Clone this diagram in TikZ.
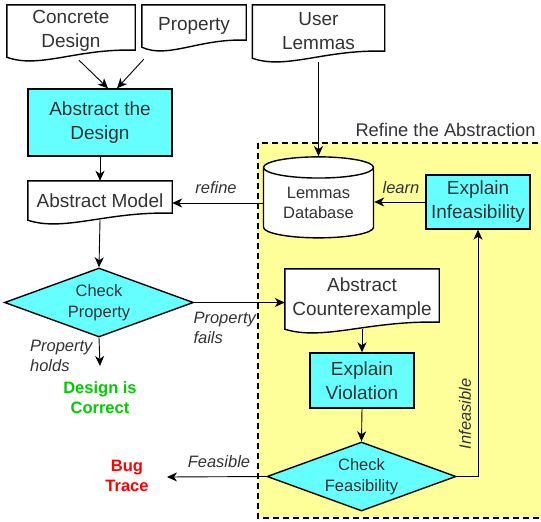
\documentclass[tikz,border=0pt]{standalone}
\usepackage{fontspec}
\setmainfont{Liberation Sans}
\usetikzlibrary{arrows.meta,shapes.geometric,calc,backgrounds}

\definecolor{boxcyan}{HTML}{66FFFF}
\definecolor{areayellow}{HTML}{FFFF99}
\definecolor{txtgray}{HTML}{333333}
\definecolor{okgreen}{HTML}{00CC00}
\definecolor{bugred}{HTML}{FF0000}

\begin{document}
\begin{tikzpicture}[x=1pt, y=-1pt,
  every node/.style={font=\fontsize{19}{24}\selectfont, text=txtgray, align=center},
  smallfont/.style={font=\fontsize{16.5}{20.5}\selectfont},
  flow/.style={-{Stealth[length=10pt,width=9pt,inset=3pt]}, line width=0.9pt},
  procbox/.style={draw, line width=1.4pt, fill=boxcyan, inner sep=0pt},
  docbox/.style={inner sep=0pt},
  docline/.style={line width=1.4pt, draw, fill=white},
  decision/.style={diamond, aspect=2.7, draw, line width=1.4pt, fill=boxcyan, inner sep=0pt,
    minimum width=189pt, minimum height=69pt, smallfont},
  edgelbl/.style={font=\fontsize{16.5}{20}\selectfont\itshape},
  verdict/.style={font=\fontsize{16.5}{20}\selectfont\bfseries}]

  \useasboundingbox (0,0) rectangle (541,522);

  %% Left column: abstraction and model checking
  % Input documents
  \node[docbox, minimum width=128pt, minimum height=52pt] (concrete) at (71,31) {Concrete\\Design};
  \node[docbox, minimum width=104pt, minimum height=42pt] (property) at (194,26) {Property};
  \node[docbox, minimum width=132pt, minimum height=53pt] (user) at (318.5,31.5) {User\\Lemmas};

  \node[procbox, minimum width=144pt, minimum height=67pt] (abstr) at (100,122.5) {Abstract the\\Design};
  \node[docbox, minimum width=144pt, minimum height=39pt] (model) at (100,200.5) {Abstract Model};
  \node[decision] (chkprop) at (99,302.5) {Check\\Property};
  \node[verdict, text=okgreen] (correct) at (100,398) {Design is\\Correct};
  \coordinate (holdsend) at (100,366);

  %% Right part: refinement loop
  \node[anchor=base west, font=\fontsize{18.3}{22}\selectfont] (refinetitle) at (352,136) {Refine the Abstraction};
  \node[cylinder, shape border rotate=90, aspect=0.3, draw, line width=1.4pt, fill=white,
    minimum width=110pt, minimum height=81pt, inner sep=0pt, smallfont] (db) at (318.5,203) {Lemmas\\Database};
  \node[procbox, minimum width=104pt, minimum height=54pt] (explinf) at (478,202) {Explain\\Infeasibility};
  \node[docbox, minimum width=154pt, minimum height=60pt] (cex) at (362,299) {Abstract\\Counterexample};
  \node[procbox, minimum width=104pt, minimum height=55pt] (explviol) at (362,380.5) {Explain\\Violation};
  \node[decision] (chkfeas) at (361.5,476.5) {Check\\Feasibility};
  \node[verdict, text=bugred] (bug) at (127,476) {Bug\\Trace};
  \coordinate (feasend) at (167,477);

  % Yellow area and document outlines behind the texts
  \begin{pgfonlayer}{background}
    \draw[dashed, dash pattern=on 6pt off 4pt, line width=1.5pt, fill=areayellow]
      (258,143) rectangle (548,518);
    \foreach \n in {concrete,property,user,model,cex}
      \draw[docline] (\n.north west) -- (\n.north east) -- ($(\n.south east)+(0,-7)$)
        .. controls ($(\n.south west)!0.55!(\n.south east)+(0,-9)$)
        and ($(\n.south west)!0.25!(\n.south east)+(0,12)$) .. (\n.south west) -- cycle;
  \end{pgfonlayer}

  %% Connectors
  \draw[flow] ([shift={(8,3)}]concrete.south) -- ([xshift=8pt]abstr.north);
  \draw[flow] ([shift={(2,12)}]property.south west) -- ([xshift=17pt]abstr.north);
  \draw[flow] (abstr.south) -- (model.north);
  \draw[flow] (model.south) -- (chkprop.north);
  \draw[flow] (chkprop.south) -- (holdsend);
  \draw[flow] (chkprop.east) -- (chkprop.east -| cex.west);
  \draw[flow] ([yshift=-4pt]user.south) -- (db.north);
  \draw[flow] (explinf.west) -- (explinf.west -| db.east);
  \draw[flow] (db.west) -- (db.west -| model.east);
  \draw[flow] (cex.south) -- (explviol.north);
  \draw[flow] (explviol.south) -- (chkfeas.north);
  \draw[flow] (chkfeas.east) -| (explinf.south);
  \draw[flow] (chkfeas.west) -- (feasend);

  % Edge labels
  \node[edgelbl, align=left, anchor=north east] (holdslbl) at (96,337) {Property\\holds};
  \node[edgelbl, align=left, anchor=north west] (failslbl) at (190,309) {Property\\fails};
  \node[edgelbl] (refinelbl) at (216,188) {refine};
  \node[edgelbl] (learnlbl) at (401,188) {learn};
  \node[edgelbl, rotate=90] (infeaslbl) at (465,414) {Infeasible};
  \node[edgelbl] (feaslbl) at (219,462) {Feasible};
\end{tikzpicture}
\end{document}
